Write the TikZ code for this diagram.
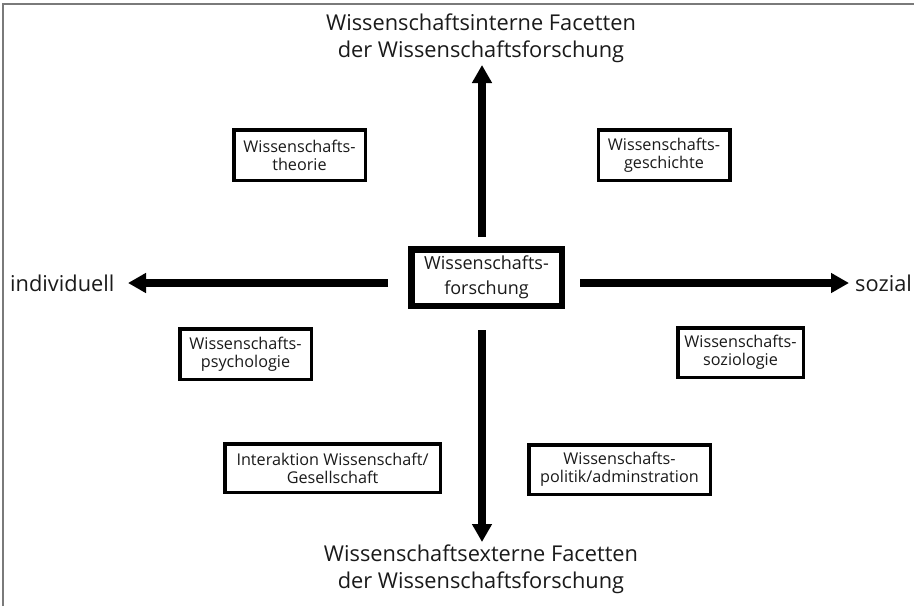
\documentclass[tikz,border=0pt]{standalone}
\usepackage{fontspec}
\setmainfont{Open Sans}
\usetikzlibrary{arrows.meta}
\definecolor{txt}{HTML}{1A1A1A}
\definecolor{frame}{HTML}{7A7A7A}
\tikzset{
  smallbox/.style={draw=black, line width=3.5pt, text=txt, align=center, inner sep=0pt,
    font=\fontsize{16.2}{18}\selectfont},
  centerbox/.style={draw=black, line width=6.5pt, text=txt, align=center, inner sep=0pt,
    minimum width=150.5pt, minimum height=56.5pt, font=\fontsize{18}{25}\selectfont},
  bigtext/.style={text=txt, align=center, inner sep=0pt, font=\fontsize{21.8}{27}\selectfont},
  arr/.style={line width=7.5pt, -{Triangle[length=18pt,width=19pt]}, black},
}
\begin{document}
\begin{tikzpicture}[x=1pt,y=-1pt]
\useasboundingbox (0,0) rectangle (914,606);
\fill[white] (0,0) rectangle (914,606);
\draw[frame, line width=2pt] (3,606) -- (3,4) -- (914,4);

% titles
\node[bigtext] (top) at (481,38.5) {Wissenschaftsinterne Facetten\\der Wissenschaftsforschung};
\node[bigtext] (bottom) at (481,569) {Wissenschaftsexterne Facetten\\der Wissenschaftsforschung};
\node[bigtext, anchor=west] (left) at (10,283) {individuell};
\node[bigtext, anchor=west] (right) at (855,283) {sozial};

% centre
\node[centerbox] (center) at (486.5,277.5) {Wissenschafts-\\forschung};

% small boxes
\node[smallbox, minimum width=131.5pt, minimum height=50.5pt] (theorie) at (299.5,155) {Wissenschafts-\\theorie};
\node[smallbox, minimum width=131.5pt, minimum height=50.5pt] (geschichte) at (664,155) {Wissenschafts-\\geschichte};
\node[smallbox, minimum width=131.5pt, minimum height=50.5pt] (psych) at (245.5,354) {Wissenschafts-\\psychologie};
\node[smallbox, minimum width=125.5pt, minimum height=49.5pt] (sozio) at (740.5,352.5) {Wissenschafts-\\soziologie};
\node[smallbox, minimum width=215.5pt, minimum height=48.5pt] (inter) at (332.5,468) {Interaktion Wissenschaft/\\Gesellschaft};
\node[smallbox, minimum width=181.5pt, minimum height=49.5pt] (politik) at (619.5,469.5) {Wissenschafts-\\politik/adminstration};

% arrows
\coordinate (uS) at (482,237);
\coordinate (uE) at (482,65);
\coordinate (dS) at (482,330);
\coordinate (dE) at (482,542);
\coordinate (lS) at (388,283);
\coordinate (lE) at (128,283);
\coordinate (rS) at (580,283);
\coordinate (rE) at (849,283);
\draw[arr] (uS) -- (uE);
\draw[arr] (dS) -- (dE);
\draw[arr] (lS) -- (lE);
\draw[arr] (rS) -- (rE);
\end{tikzpicture}
\end{document}
